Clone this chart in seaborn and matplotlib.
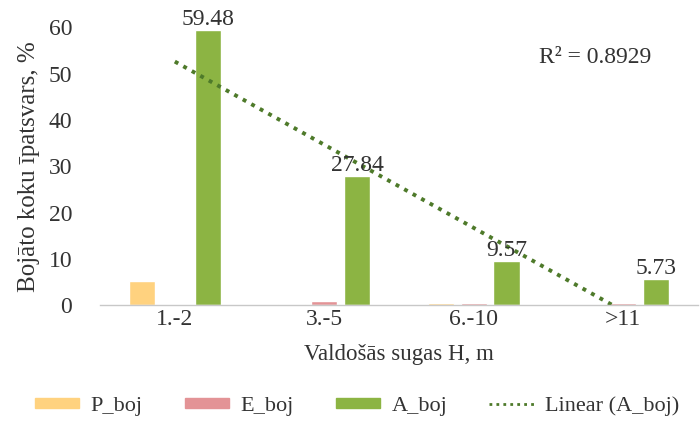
import numpy as np
import pandas as pd
import matplotlib.pyplot as plt
import seaborn as sns
from matplotlib.patches import Patch
from matplotlib.lines import Line2D

# Data
categories = ["1.-2", "3.-5", "6.-10", ">11"]
p_boj = [5.2, 0.3, 0.4, 0.0]
e_boj = [0.0, 0.8, 0.4, 0.4]
a_boj = [59.48, 27.84, 9.57, 5.73]
r2_text = "R² = 0.8929"

colors = {"P_boj": "#FFD27F", "E_boj": "#E39396", "A_boj": "#8CB443"}
trend_color = "#4E7A2A"
txt = "#333333"


def main():
    sns.set_theme(style="white")
    plt.rcParams["font.family"] = ["Liberation Serif", "DejaVu Serif"]

    df = pd.DataFrame({
        "H": categories * 3,
        "val": p_boj + e_boj + a_boj,
        "series": ["P_boj"] * 4 + ["E_boj"] * 4 + ["A_boj"] * 4,
    })

    fig = plt.figure(figsize=(7, 4.25), dpi=100)
    ax = fig.add_axes([0.143, 0.282, 0.854, 0.654])

    sns.barplot(data=df, x="H", y="val", hue="series", palette=colors,
                width=0.66, gap=0.2, ax=ax, legend=False, saturation=1)

    # value labels for A_boj only
    ax.bar_label(ax.containers[2], labels=[f"{v:.2f}" for v in a_boj],
                 fontsize=17, padding=0, color=txt)

    # linear trendline for A_boj
    x = np.arange(len(a_boj))
    k, b = np.polyfit(x, a_boj, 1)
    xs = np.array([0, len(a_boj) - 1])
    ax.plot(xs, k * xs + b, ls=(0, (1, 1.5)), lw=2.8, color=trend_color,
            clip_on=True)

    ax.text(0.735, 0.87, r2_text, transform=ax.transAxes, fontsize=17,
            color=txt)

    ax.set_xlim(-0.5, 3.5)
    ax.set_ylim(0, 60)
    ax.set_yticks(range(0, 61, 10))
    ax.tick_params(axis="both", labelsize=17, colors=txt, length=0)
    ax.tick_params(axis="x", pad=3)
    ax.tick_params(axis="y", pad=20)
    ax.set_xlabel("Valdošās sugas H, m", fontsize=16.5, color=txt, labelpad=10)
    ax.set_ylabel("Bojāto koku īpatsvars, %", fontsize=18, color=txt, labelpad=6)
    for s in ["top", "right", "left"]:
        ax.spines[s].set_visible(False)
    ax.spines["bottom"].set_color("#C8C8C8")
    ax.spines["bottom"].set_linewidth(1)

    # legend
    handles = [Patch(color=colors[s]) for s in ["P_boj", "E_boj", "A_boj"]]
    handles.append(Line2D([], [], ls=(0, (1, 1.5)), lw=2, color=trend_color))
    labels = ["P_boj", "E_boj", "A_boj", "Linear (A_boj)"]
    fig.legend(handles, labels, loc="center", bbox_to_anchor=(0.51, 0.045),
               ncol=4, frameon=False, fontsize=16, handlelength=2.0,
               handleheight=0.35, columnspacing=1.9, handletextpad=0.5,
               labelcolor=txt)

    fig.savefig("out.png", dpi=100)


if __name__ == "__main__":
    main()
